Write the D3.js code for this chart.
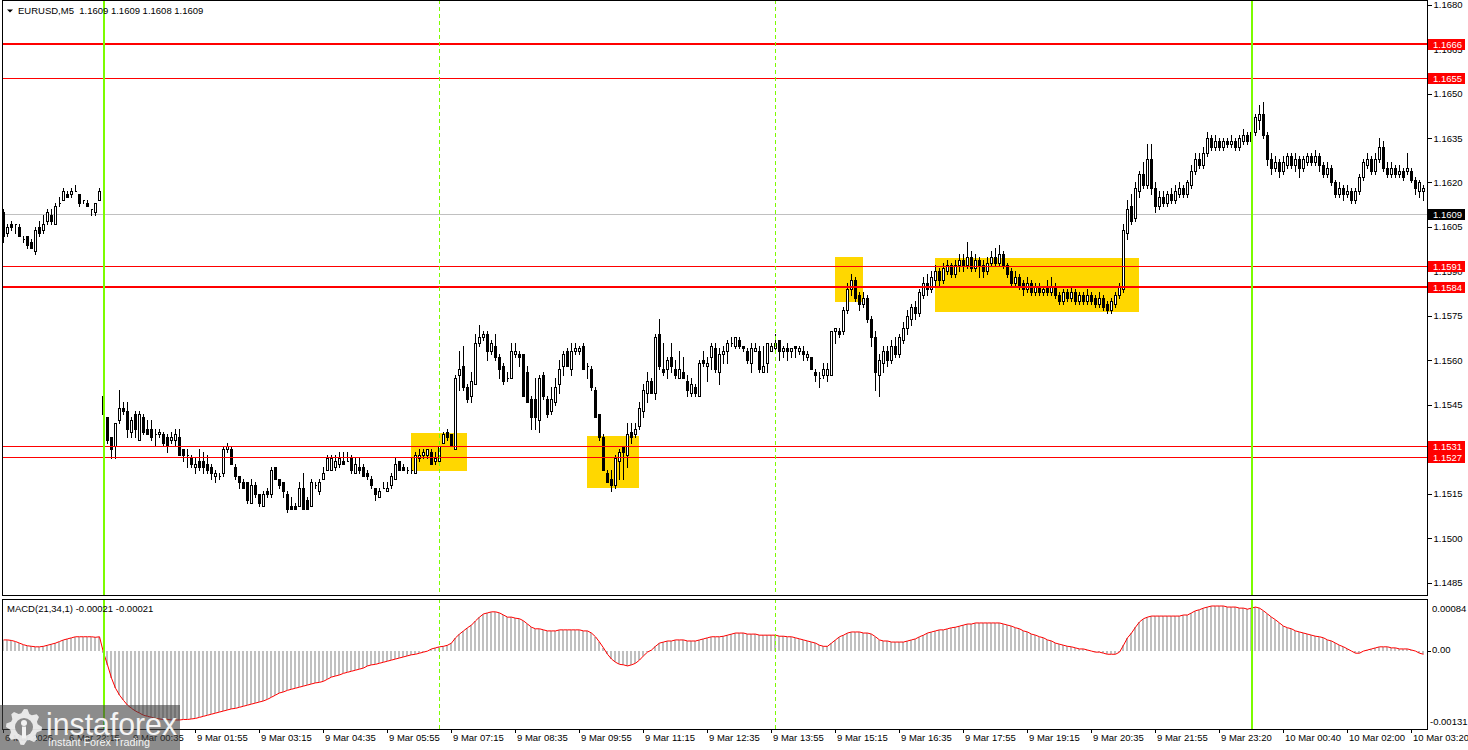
<!DOCTYPE html>
<html><head><meta charset="utf-8">
<script src="https://cdn.jsdelivr.net/npm/d3@7"></script>
<style>
html,body{margin:0;padding:0;background:#fff;overflow:hidden;}
svg{display:block;font-family:"Liberation Sans",Arial,sans-serif;}
</style></head><body>
<svg id="chart" width="1468" height="750"></svg>
<script>
// ---------------- DATA ----------------
const symbolTitle = "EURUSD,M5  1.1609 1.1609 1.1608 1.1609";
const macdTitle = "MACD(21,34,1) -0.00021 -0.00021";

// candles [open, high, low, close]
const candlesFri = [
[1.1610,1.1611,1.1600,1.1602],[1.1603,1.1606,1.1602,1.1605],[1.1606,1.1607,1.1604,1.1605],[1.1606,1.1606,1.1603,1.1606],
[1.1605,1.1606,1.1602,1.1602],[1.1601,1.1602,1.1600,1.1601],[1.1602,1.1602,1.1598,1.1599],[1.1600,1.1601,1.1598,1.1598],
[1.1597,1.1605,1.1596,1.1604],[1.1605,1.1607,1.1602,1.1603],[1.1604,1.1609,1.1603,1.1606],[1.1607,1.1611,1.1606,1.1610],
[1.1609,1.1611,1.1606,1.1607],[1.1606,1.1613,1.1606,1.1612],[1.1613,1.1615,1.1612,1.1613],[1.1614,1.1618,1.1614,1.1617],
[1.1616,1.1617,1.1615,1.1615],[1.1616,1.1618,1.1615,1.1617],[1.1617,1.1619,1.1617,1.1617],[1.1616,1.1616,1.1612,1.1613],
[1.1614,1.1614,1.1613,1.1614],[1.1613,1.1614,1.1612,1.1612],[1.1611,1.1611,1.1609,1.1611],[1.1610,1.1613,1.1609,1.1613],
[1.1614,1.1618,1.1614,1.1617]
];
const candlesMon1 = [
[1.1548,1.1551,1.1541,1.1542],[1.1541,1.1541,1.1532,1.1533],[1.1534,1.1534,1.1527,1.1530],[1.1531,1.1539,1.1527,1.1539],
[1.1540,1.1550,1.1539,1.1544],[1.1544,1.1546,1.1542,1.1543],[1.1543,1.1546,1.1534,1.1537],[1.1536,1.1541,1.1534,1.1540],
[1.1542,1.1543,1.1534,1.1537],[1.1533,1.1543,1.1533,1.1542],[1.1541,1.1542,1.1535,1.1536],[1.1537,1.1540,1.1535,1.1535],
[1.1537,1.1540,1.1533,1.1534],[1.1535,1.1537,1.1531,1.1535],[1.1535,1.1537,1.1534,1.1536],[1.1535,1.1536,1.1531,1.1532],
[1.1534,1.1535,1.1529,1.1531],[1.1533,1.1536,1.1532,1.1534],[1.1533,1.1537,1.1531,1.1535],[1.1534,1.1537,1.1528,1.1528],
[1.1530,1.1530,1.1526,1.1528],[1.1528,1.1530,1.1524,1.1528],[1.1527,1.1528,1.1524,1.1525],[1.1524,1.1527,1.1522,1.1525],
[1.1526,1.1530,1.1523,1.1524],[1.1526,1.1529,1.1522,1.1524],[1.1525,1.1528,1.1522,1.1523],[1.1524,1.1525,1.1520,1.1522],
[1.1521,1.1523,1.1519,1.1522],[1.1521,1.1522,1.1520,1.1521],[1.1522,1.1531,1.1521,1.1530],[1.1530,1.1532,1.1529,1.1531],
[1.1530,1.1531,1.1525,1.1525],[1.1524,1.1525,1.1520,1.1521],[1.1521,1.1521,1.1517,1.1519],[1.1519,1.1520,1.1517,1.1517],
[1.1519,1.1519,1.1512,1.1513],[1.1512,1.1520,1.1512,1.1518],[1.1518,1.1519,1.1514,1.1515],[1.1515,1.1515,1.1511,1.1512],
[1.1511,1.1516,1.1511,1.1515],[1.1516,1.1517,1.1514,1.1515],[1.1515,1.1524,1.1514,1.1523],[1.1524,1.1524,1.1520,1.1520],
[1.1520,1.1520,1.1517,1.1518],[1.1519,1.1519,1.1514,1.1516],[1.1515,1.1516,1.1509,1.1510],[1.1511,1.1514,1.1510,1.1510],
[1.1511,1.1512,1.1510,1.1510],[1.1511,1.1519,1.1511,1.1517],[1.1517,1.1522,1.1510,1.1510],[1.1513,1.1514,1.1510,1.1510],
[1.1511,1.1520,1.1511,1.1519],[1.1518,1.1519,1.1517,1.1518],[1.1516,1.1520,1.1515,1.1519],[1.1520,1.1524,1.1520,1.1522],
[1.1523,1.1528,1.1523,1.1527],[1.1523,1.1528,1.1523,1.1527],[1.1524,1.1528,1.1523,1.1526],[1.1525,1.1529,1.1524,1.1527],
[1.1526,1.1529,1.1525,1.1525],[1.1526,1.1529,1.1526,1.1526],[1.1527,1.1528,1.1522,1.1523],[1.1522,1.1527,1.1522,1.1525],
[1.1524,1.1527,1.1522,1.1523],[1.1524,1.1525,1.1521,1.1521],[1.1522,1.1523,1.1520,1.1521],[1.1520,1.1521,1.1517,1.1518],
[1.1517,1.1517,1.1513,1.1515],[1.1514,1.1517,1.1514,1.1516],[1.1517,1.1519,1.1517,1.1517],[1.1516,1.1519,1.1516,1.1517],
[1.1518,1.1522,1.1517,1.1521],[1.1520,1.1527,1.1520,1.1525],[1.1526,1.1526,1.1523,1.1523],[1.1524,1.1525,1.1523,1.1523],
[1.1523,1.1524,1.1522,1.1523],[1.1523,1.1527,1.1522,1.1523],[1.1522,1.1529,1.1522,1.1528],[1.1527,1.1530,1.1526,1.1528],
[1.1528,1.1530,1.1527,1.1529],[1.1528,1.1530,1.1527,1.1530],[1.1529,1.1530,1.1525,1.1525],[1.1526,1.1529,1.1525,1.1527],
[1.1526,1.1531,1.1525,1.1531],[1.1532,1.1536,1.1532,1.1535],[1.1536,1.1537,1.1533,1.1534],[1.1535,1.1535,1.1531,1.1531]
];
const candlesMon2 = [
[1.1530,1.1555,1.1530,1.1554],[1.1555,1.1563,1.1550,1.1557],[1.1558,1.1565,1.1550,1.1551],[1.1551,1.1552,1.1546,1.1547],
[1.1548,1.1556,1.1546,1.1553],[1.1552,1.1569,1.1552,1.1566],[1.1566,1.1572,1.1565,1.1568],[1.1568,1.1570,1.1567,1.1569],
[1.1569,1.1570,1.1560,1.1563],[1.1563,1.1567,1.1562,1.1566],[1.1565,1.1569,1.1560,1.1561],[1.1561,1.1562,1.1554,1.1557],
[1.1558,1.1559,1.1552,1.1553],[1.1554,1.1556,1.1553,1.1554],[1.1554,1.1566,1.1554,1.1563],[1.1562,1.1566,1.1561,1.1563],
[1.1562,1.1563,1.1558,1.1561],[1.1562,1.1562,1.1548,1.1548],[1.1556,1.1558,1.1546,1.1546],[1.1547,1.1548,1.1537,1.1541],
[1.1547,1.1554,1.1537,1.1541],[1.1540,1.1555,1.1536,1.1554],[1.1555,1.1556,1.1547,1.1548],[1.1547,1.1548,1.1541,1.1542],
[1.1543,1.1551,1.1542,1.1547],[1.1546,1.1554,1.1545,1.1551],[1.1552,1.1560,1.1549,1.1557],[1.1558,1.1563,1.1555,1.1562],
[1.1563,1.1564,1.1558,1.1558],[1.1557,1.1566,1.1555,1.1563],[1.1563,1.1566,1.1562,1.1564],[1.1563,1.1565,1.1562,1.1564],
[1.1565,1.1566,1.1557,1.1557],[1.1558,1.1559,1.1554,1.1558],[1.1557,1.1558,1.1550,1.1551],[1.1550,1.1551,1.1541,1.1541],
[1.1542,1.1542,1.1533,1.1534],[1.1534,1.1535,1.1523,1.1523],[1.1522,1.1523,1.1519,1.1519],[1.1520,1.1523,1.1516,1.1518],
[1.1518,1.1528,1.1517,1.1527],[1.1526,1.1530,1.1520,1.1529],[1.1531,1.1531,1.1520,1.1529],[1.1528,1.1539,1.1524,1.1535],
[1.1536,1.1539,1.1532,1.1534],[1.1535,1.1539,1.1534,1.1537],[1.1538,1.1546,1.1537,1.1544],[1.1543,1.1552,1.1541,1.1550],
[1.1549,1.1556,1.1546,1.1553],[1.1553,1.1554,1.1549,1.1549],[1.1549,1.1569,1.1547,1.1568],[1.1569,1.1574,1.1557,1.1558],
[1.1557,1.1566,1.1555,1.1556],[1.1557,1.1561,1.1554,1.1560],[1.1561,1.1566,1.1556,1.1558],[1.1557,1.1560,1.1554,1.1555],
[1.1554,1.1563,1.1554,1.1557],[1.1556,1.1561,1.1554,1.1554],[1.1553,1.1555,1.1548,1.1550],[1.1549,1.1554,1.1548,1.1552],
[1.1551,1.1552,1.1548,1.1549],[1.1548,1.1560,1.1548,1.1559],[1.1560,1.1563,1.1558,1.1559],[1.1558,1.1561,1.1553,1.1559],
[1.1561,1.1566,1.1557,1.1565],[1.1564,1.1566,1.1556,1.1557],[1.1556,1.1564,1.1552,1.1562],[1.1562,1.1565,1.1559,1.1563],
[1.1563,1.1567,1.1559,1.1566],[1.1566,1.1568,1.1565,1.1566],[1.1565,1.1568,1.1564,1.1568],[1.1567,1.1568,1.1564,1.1565],
[1.1565,1.1565,1.1563,1.1564],[1.1563,1.1564,1.1559,1.1560],[1.1559,1.1566,1.1556,1.1564],[1.1563,1.1566,1.1563,1.1564],
[1.1563,1.1565,1.1556,1.1557],[1.1556,1.1565,1.1556,1.1558],[1.1559,1.1566,1.1556,1.1566],[1.1563,1.1566,1.1563,1.1565],
[1.1564,1.1569,1.1563,1.1566],[1.1567,1.1567,1.1560,1.1563],[1.1563,1.1565,1.1561,1.1564],[1.1564,1.1566,1.1560,1.1563],
[1.1563,1.1564,1.1561,1.1564],[1.1565,1.1565,1.1561,1.1564],[1.1563,1.1565,1.1562,1.1564],[1.1563,1.1565,1.1560,1.1562],
[1.1561,1.1563,1.1560,1.1562],[1.1561,1.1561,1.1557,1.1557],[1.1556,1.1557,1.1553,1.1555],[1.1554,1.1556,1.1551,1.1554],
[1.1555,1.1559,1.1554,1.1557],[1.1555,1.1559,1.1553,1.1557],[1.1555,1.1570,1.1555,1.1570],[1.1570,1.1571,1.1566,1.1571],
[1.1570,1.1571,1.1568,1.1569]
];
const candlesMon3 = [
[1.1570,1.1578,1.1569,1.1577],[1.1577,1.1586,1.1576,1.1584],[1.1584,1.1589,1.1582,1.1587],[1.1587,1.1588,1.1580,1.1581],
[1.1582,1.1583,1.1577,1.1579],[1.1579,1.1583,1.1578,1.1581],[1.1581,1.1582,1.1573,1.1574],[1.1574,1.1575,1.1565,1.1568],
[1.1568,1.1570,1.1550,1.1556],[1.1555,1.1562,1.1548,1.1560],[1.1559,1.1565,1.1556,1.1563],[1.1563,1.1565,1.1558,1.1560],
[1.1560,1.1567,1.1559,1.1565],[1.1565,1.1568,1.1561,1.1562],[1.1562,1.1569,1.1561,1.1568],[1.1567,1.1573,1.1566,1.1571],
[1.1571,1.1577,1.1569,1.1575],[1.1574,1.1579,1.1572,1.1578],[1.1578,1.1580,1.1574,1.1576],[1.1576,1.1584,1.1575,1.1583],
[1.1582,1.1588,1.1581,1.1586],[1.1586,1.1589,1.1582,1.1584],[1.1584,1.1590,1.1583,1.1588],[1.1587,1.1592,1.1585,1.1590],
[1.1590,1.1591,1.1585,1.1587],[1.1587,1.1593,1.1586,1.1591],[1.1590,1.1594,1.1589,1.1592],[1.1592,1.1593,1.1588,1.1589],
[1.1589,1.1594,1.1588,1.1592],[1.1592,1.1596,1.1590,1.1594],[1.1594,1.1596,1.1590,1.1592],[1.1592,1.1600,1.1591,1.1595],
[1.1595,1.1597,1.1590,1.1591],[1.1591,1.1596,1.1590,1.1594],[1.1594,1.1595,1.1588,1.1592],[1.1592,1.1594,1.1588,1.1590],
[1.1590,1.1595,1.1589,1.1593],[1.1593,1.1597,1.1592,1.1595],[1.1595,1.1598,1.1592,1.1593],[1.1593,1.1599,1.1592,1.1596],
[1.1596,1.1597,1.1591,1.1592],[1.1592,1.1593,1.1588,1.1589],[1.1590,1.1591,1.1585,1.1586],[1.1586,1.1590,1.1585,1.1588],
[1.1588,1.1589,1.1584,1.1585],[1.1586,1.1587,1.1582,1.1584],[1.1584,1.1588,1.1583,1.1586],[1.1586,1.1587,1.1582,1.1583],
[1.1583,1.1586,1.1582,1.1585],[1.1585,1.1586,1.1582,1.1583],[1.1583,1.1585,1.1582,1.1584],[1.1585,1.1587,1.1582,1.1583],
[1.1583,1.1588,1.1582,1.1585],[1.1585,1.1586,1.1581,1.1582],[1.1582,1.1583,1.1579,1.1580],[1.1580,1.1584,1.1579,1.1583],
[1.1583,1.1584,1.1580,1.1581],[1.1581,1.1585,1.1580,1.1583],[1.1583,1.1584,1.1579,1.1580],[1.1580,1.1583,1.1579,1.1582],
[1.1582,1.1583,1.1579,1.1580],[1.1580,1.1584,1.1579,1.1582],[1.1582,1.1583,1.1579,1.1580],[1.1581,1.1582,1.1578,1.1579],
[1.1579,1.1583,1.1578,1.1581],[1.1581,1.1582,1.1577,1.1578],[1.1579,1.1580,1.1576,1.1577],[1.1577,1.1581,1.1576,1.1580],
[1.1579,1.1583,1.1578,1.1582],[1.1582,1.1586,1.1581,1.1585],[1.1584,1.1606,1.1583,1.1604],[1.1603,1.1614,1.1601,1.1611],
[1.1612,1.1616,1.1606,1.1607],[1.1608,1.1620,1.1607,1.1618],[1.1617,1.1624,1.1615,1.1623],[1.1623,1.1627,1.1618,1.1619],
[1.1619,1.1633,1.1618,1.1628],[1.1628,1.1633,1.1616,1.1618],[1.1618,1.1620,1.1610,1.1612],[1.1612,1.1617,1.1611,1.1615],
[1.1615,1.1617,1.1612,1.1613],[1.1613,1.1617,1.1612,1.1616],[1.1616,1.1618,1.1613,1.1614],[1.1614,1.1619,1.1613,1.1617],
[1.1616,1.1620,1.1615,1.1618],[1.1618,1.1619,1.1615,1.1616],[1.1616,1.1621,1.1615,1.1620],[1.1619,1.1626,1.1618,1.1624],
[1.1624,1.1630,1.1623,1.1628],[1.1628,1.1630,1.1625,1.1626],[1.1626,1.1632,1.1625,1.1630],[1.1630,1.1637,1.1629,1.1635],
[1.1635,1.1636,1.1631,1.1632],[1.1632,1.1636,1.1631,1.1634],[1.1634,1.1635,1.1631,1.1632],[1.1632,1.1635,1.1631,1.1634],
[1.1634,1.1635,1.1632,1.1633],[1.1633,1.1636,1.1632,1.1634],[1.1634,1.1635,1.1631,1.1632],[1.1632,1.1636,1.1631,1.1635],
[1.1634,1.1638,1.1633,1.1636],[1.1636,1.1637,1.1633,1.1634],[1.1634,1.1640,1.1633,1.1637],[1.1637,1.1643,1.1636,1.1642],
[1.1641,1.1646,1.1638,1.1643],[1.1643,1.1647,1.1635,1.1636],[1.1636,1.1637,1.1626,1.1628],[1.1628,1.1630,1.1623,1.1625],
[1.1625,1.1629,1.1624,1.1627],[1.1627,1.1628,1.1622,1.1624],[1.1624,1.1629,1.1623,1.1627],[1.1626,1.1630,1.1625,1.1629],
[1.1629,1.1630,1.1625,1.1626],[1.1626,1.1630,1.1624,1.1628],[1.1628,1.1629,1.1622,1.1625],[1.1625,1.1629,1.1624,1.1628],
[1.1627,1.1630,1.1626,1.1629],[1.1629,1.1630,1.1626,1.1627],[1.1627,1.1631,1.1626,1.1629],[1.1629,1.1630,1.1624,1.1626],
[1.1626,1.1627,1.1622,1.1623],[1.1623,1.1627,1.1622,1.1625],[1.1625,1.1626,1.1619,1.1620],[1.1620,1.1621,1.1615,1.1616],
[1.1616,1.1620,1.1615,1.1618],[1.1618,1.1619,1.1614,1.1616],[1.1616,1.1619,1.1615,1.1617],[1.1617,1.1618,1.1613,1.1614],
[1.1614,1.1618,1.1613,1.1617],[1.1617,1.1623,1.1616,1.1622],[1.1622,1.1628,1.1621,1.1627],[1.1626,1.1630,1.1625,1.1628],
[1.1628,1.1629,1.1623,1.1624],[1.1624,1.1630,1.1623,1.1628],[1.1628,1.1635,1.1627,1.1632],[1.1632,1.1634,1.1624,1.1625],
[1.1625,1.1627,1.1622,1.1623],[1.1623,1.1627,1.1622,1.1625],[1.1625,1.1626,1.1622,1.1623],[1.1623,1.1626,1.1622,1.1624],
[1.1624,1.1625,1.1621,1.1622],[1.1624,1.1630,1.1623,1.1625],[1.1624,1.1625,1.1620,1.1621],[1.1621,1.1622,1.1616,1.1618],
[1.1617,1.1621,1.1615,1.1620],[1.1617,1.1619,1.1614,1.1618]
];

// MACD(21,34,1) main values (signal = same, period 1)
const macdFri = [0.00020,0.00020,0.00019,0.00017,0.00014,0.00011,0.00009,0.00008,0.00007,0.00007,
0.00008,0.00010,0.00012,0.00014,0.00017,0.00020,0.00022,0.00024,0.00026,0.00026,
0.00026,0.00026,0.00026,0.00025,0.00026];
const macdMon1 = [-0.00004,-0.00027,-0.00052,-0.00071,-0.00084,
-0.00094,-0.00103,-0.00109,-0.00114,-0.00118,-0.00122,-0.00124,-0.00126,-0.00128,-0.00129,
-0.00130,-0.00130,-0.00131,-0.00131,-0.00131,-0.00130,-0.00130,-0.00129,-0.00128,-0.00126,
-0.00124,-0.00122,-0.00120,-0.00118,-0.00116,-0.00114,-0.00112,-0.00110,-0.00109,-0.00107,
-0.00105,-0.00103,-0.00101,-0.00099,-0.00097,-0.00095,-0.00092,-0.00088,-0.00084,-0.00080,
-0.00078,-0.00075,-0.00073,-0.00071,-0.00069,-0.00067,-0.00065,-0.00063,-0.00061,-0.00060,
-0.00058,-0.00054,-0.00050,-0.00048,-0.00046,-0.00043,-0.00041,-0.00039,-0.00037,-0.00035,
-0.00033,-0.00029,-0.00027,-0.00026,-0.00024,-0.00022,-0.00020,-0.00018,-0.00016,-0.00014,
-0.00012,-0.00010,-0.00008,-0.00007,-0.00005,-0.00003,-0.00001,0.00003,0.00005,0.00007,
0.00008,0.00010,0.00014];
const macdMon2 = [0.00024,0.00031,0.00037,0.00043,0.00048,0.00056,0.00063,
0.00069,0.00071,0.00073,0.00073,0.00071,0.00067,0.00063,0.00063,0.00061,0.00060,
0.00056,0.00050,0.00044,0.00041,0.00041,0.00039,0.00037,0.00037,0.00037,0.00039,
0.00039,0.00039,0.00039,0.00039,0.00039,0.00037,0.00037,0.00033,0.00026,0.00016,
0.00005,-0.00007,-0.00016,-0.00022,-0.00026,-0.00027,-0.00029,-0.00027,-0.00024,-0.00018,
-0.00010,-0.00003,0.00001,0.00008,0.00014,0.00016,0.00018,0.00018,0.00020,0.00020,
0.00020,0.00018,0.00018,0.00018,0.00020,0.00022,0.00024,0.00026,0.00026,0.00026,
0.00027,0.00029,0.00031,0.00033,0.00033,0.00033,0.00031,0.00031,0.00031,0.00029,
0.00029,0.00029,0.00029,0.00029,0.00027,0.00027,0.00026,0.00026,0.00024,0.00022,
0.00020,0.00018,0.00016,0.00014,0.00010,0.00008,0.00008,0.00014,0.00020,0.00026];
const macdMon3 = [0.00029,0.00033,0.00035,0.00035,0.00035,0.00033,0.00033,0.00031,0.00026,0.00020,
0.00018,0.00018,0.00016,0.00016,0.00016,0.00016,0.00018,0.00020,0.00022,0.00026,
0.00029,0.00033,0.00035,0.00037,0.00039,0.00039,0.00041,0.00043,0.00044,0.00046,
0.00048,0.00050,0.00050,0.00052,0.00052,0.00052,0.00052,0.00052,0.00052,0.00052,
0.00050,0.00048,0.00046,0.00043,0.00041,0.00037,0.00035,0.00031,0.00029,0.00026,
0.00024,0.00020,0.00018,0.00014,0.00012,0.00010,0.00008,0.00007,0.00005,0.00003,
0.00003,0.00001,-0.00001,-0.00003,-0.00003,-0.00005,-0.00007,-0.00007,-0.00007,-0.00003,
0.00010,0.00024,0.00033,0.00044,0.00054,0.00060,0.00063,0.00065,0.00065,0.00065,
0.00065,0.00065,0.00065,0.00065,0.00065,0.00067,0.00067,0.00071,0.00075,0.00077,
0.00080,0.00082,0.00084,0.00084,0.00084,0.00084,0.00082,0.00082,0.00082,0.00080,
0.00080,0.00078,0.00080,0.00082,0.00080,0.00075,0.00069,0.00063,0.00058,0.00052,
0.00046,0.00043,0.00041,0.00037,0.00035,0.00033,0.00031,0.00029,0.00027,0.00026,
0.00024,0.00020,0.00018,0.00014,0.00010,0.00007,0.00003,-0.00001,-0.00005,-0.00005,
-0.00001,0.00001,0.00003,0.00005,0.00007,0.00007,0.00007,0.00005,0.00005,0.00003,
0.00003,0.00003,0.00001,-0.00001,-0.00005,-0.00007];

const priceTicks = [1.1680,1.1665,1.1650,1.1635,1.1620,1.1605,1.1590,1.1575,1.1560,1.1545,1.1530,1.1515,1.1500,1.1485];
const macdTickValues = [0.00084, 0, -0.00131];
const macdTickLabels = ["0.00084", "0.00", "-0.00131"];
const timeLabelBars = [0,16,32,48,64,80,96,112,128,144,160,176,192,208,224,240,256,272,288,304,320,336,352];
const timeLabels = ["6 Mar 2026","6 Mar 22:15","9 Mar 00:35","9 Mar 01:55","9 Mar 03:15","9 Mar 04:35","9 Mar 05:55",
 "9 Mar 07:15","9 Mar 08:35","9 Mar 09:55","9 Mar 11:15","9 Mar 12:35","9 Mar 13:55","9 Mar 15:15","9 Mar 16:35",
 "9 Mar 17:55","9 Mar 19:15","9 Mar 20:35","9 Mar 21:55","9 Mar 23:20","10 Mar 00:40","10 Mar 02:00","10 Mar 03:20"];

const levelPrices = [1.16667, 1.16554, 1.15917, 1.15846, 1.15311, 1.15274];
const levelLabels = ["1.1666","1.1655","1.1591","1.1584","1.1531","1.1527"];
const bidPrice = 1.16094;
const bidLabel = "1.1609";

const zoneStartBar = [102, 146, 208, 233];
const zoneEndBar   = [116, 159, 215, 284];
const zoneHigh = [1.15356, 1.15346, 1.15949, 1.15945];
const zoneLow  = [1.15228, 1.15170, 1.15797, 1.15763];

const solidVLineBars = [25, 312];
const dashedVLineBars = [109, 193];

// ---------------- STYLE / LAYOUT ----------------
const levelStrokeWidths = [2,1,1,2,1,1];
const PL = 2, PR = 1427, MAIN_T = 0, MAIN_B = 595, MACD_T = 599, MACD_B = 729;
const FONT = 9.5;

const candles = [...candlesFri, ...candlesMon1, ...candlesMon2, ...candlesMon3]
  .map(([o,h,l,c], i) => ({i, o, h, l, c}));
const macd = [...macdFri, ...macdMon1, ...macdMon2, ...macdMon3];

const x = d3.scaleLinear().domain([0, 355]).range([3, 1423]);
const y = d3.scaleLinear().domain([1.1485, 1.1680]).range([582.7, 4.6]);
const ym = d3.scaleLinear().domain([-0.00131, 0.00084]).range([720, 606]);

const svg = d3.select('#chart');
svg.append('rect').attr('width',1468).attr('height',750).attr('fill','#fff');

const defs = svg.append('defs');
defs.append('clipPath').attr('id','clipMain').append('rect')
  .attr('x',PL).attr('y',MAIN_T).attr('width',PR-PL).attr('height',MAIN_B-MAIN_T);
defs.append('clipPath').attr('id','clipMacd').append('rect')
  .attr('x',PL).attr('y',MACD_T).attr('width',PR-PL).attr('height',MACD_B-MACD_T);

const gMain = svg.append('g').attr('clip-path','url(#clipMain)').attr('shape-rendering','crispEdges');
const gMacd = svg.append('g').attr('clip-path','url(#clipMacd)').attr('shape-rendering','crispEdges');

// zones (background)
gMain.selectAll('rect.zone').data(zoneStartBar.map((s,k)=>({s, e:zoneEndBar[k], hi:zoneHigh[k], lo:zoneLow[k]})))
  .enter().append('rect').attr('class','zone')
  .attr('x', d => x(d.s)).attr('width', d => x(d.e) - x(d.s))
  .attr('y', d => Math.round(y(d.hi))).attr('height', d => Math.round(y(d.lo)) - Math.round(y(d.hi)))
  .attr('fill', '#FFD700');

// bid line
gMain.append('line').attr('x1',PL).attr('x2',PR)
  .attr('y1', Math.round(y(bidPrice))+0.5).attr('y2', Math.round(y(bidPrice))+0.5)
  .attr('stroke','#C0C0C0').attr('stroke-width',1);

// candles
const cg = gMain.append('g');
candles.forEach(d => {
  const cx = Math.round(x(d.i));
  const yh = Math.round(y(d.h)), yl = Math.round(y(d.l));
  cg.append('line').attr('x1',cx+0.5).attr('x2',cx+0.5).attr('y1',yh).attr('y2',yl+1)
    .attr('stroke','#000').attr('stroke-width',1);
  const top = Math.round(y(Math.max(d.o,d.c))) + 0.5;
  const bot = Math.round(y(Math.min(d.o,d.c))) + 0.5;
  cg.append('path')
    .attr('d', `M${cx-0.5},${top}H${cx+1.5}V${bot}H${cx-0.5}Z`)
    .attr('fill', d.c >= d.o ? '#fff' : '#000')
    .attr('stroke','#000').attr('stroke-width',1);
});

// horizontal levels
levelPrices.forEach((p,k) => {
  const w = levelStrokeWidths[k];
  const yy = w === 1 ? Math.round(y(p)) + 0.5 : Math.round(y(p));
  gMain.append('line').attr('x1',PL).attr('x2',PR).attr('y1',yy).attr('y2',yy)
    .attr('stroke','#FF0000').attr('stroke-width',w);
});

// MACD histogram
gMacd.selectAll('rect.hist').data(macd).enter().append('rect').attr('class','hist')
  .attr('x', (v,i) => Math.round(x(i)) - 1).attr('width', 2)
  .attr('y', v => Math.min(ym(v), ym(0))).attr('height', v => Math.abs(ym(v) - ym(0)))
  .attr('fill', '#C0C0C0');
// signal line (period 1 -> equals MACD)
gMacd.append('path').datum(macd)
  .attr('d', d3.line().x((v,i)=>Math.round(x(i))+0.5).y(v=>ym(v)))
  .attr('fill','none').attr('stroke','#FF0000').attr('stroke-width',1)
  .attr('shape-rendering','auto');

// vertical lines (both panels)
const vg = svg.append('g').attr('shape-rendering','crispEdges');
dashedVLineBars.forEach(b => {
  const xx = Math.round(x(b)) + 0.5;
  [[MAIN_T, MAIN_B],[MACD_T, MACD_B]].forEach(([a,bb]) => {
    vg.append('line').attr('x1',xx).attr('x2',xx).attr('y1',a).attr('y2',bb)
      .attr('stroke','#7CFC00').attr('stroke-width',1).attr('stroke-dasharray','4,3');
  });
});
solidVLineBars.forEach(b => {
  const xx = Math.round(x(b)) + 0.5;
  [[MAIN_T, MAIN_B],[MACD_T, MACD_B]].forEach(([a,bb]) => {
    vg.append('line').attr('x1',xx).attr('x2',xx).attr('y1',a).attr('y2',bb)
      .attr('stroke','#7CFC00').attr('stroke-width',2);
  });
});

// frames
const fg = svg.append('g').attr('shape-rendering','crispEdges').attr('fill','none').attr('stroke','#000');
fg.append('rect').attr('x',PL+0.5).attr('y',MAIN_T+0.5).attr('width',PR-PL).attr('height',MAIN_B-MAIN_T);
fg.append('rect').attr('x',PL+0.5).attr('y',MACD_T+0.5).attr('width',PR-PL).attr('height',MACD_B-MACD_T);

// price axis
const pa = svg.append('g').attr('transform',`translate(${PR+0.5},0)`)
  .call(d3.axisRight(y).tickValues(priceTicks).tickSize(4).tickPadding(2).tickFormat(d3.format('.4f')));
pa.select('.domain').remove();
pa.selectAll('line').attr('stroke','#000').attr('shape-rendering','crispEdges');
pa.selectAll('text').attr('font-size',FONT).attr('font-family','"Liberation Sans",Arial,sans-serif').attr('fill','#000');

// level labels
const lg = svg.append('g');
levelPrices.forEach((p,k) => {
  const yy = Math.round(y(p));
  lg.append('rect').attr('x',PR+1).attr('y',yy-5).attr('width',37).attr('height',11).attr('fill','#FF0000');
  lg.append('text').attr('x',PR+6).attr('y',yy+4).text(levelLabels[k])
    .attr('font-size',FONT).attr('fill','#fff');
});
{
  const yy = Math.round(y(bidPrice));
  lg.append('rect').attr('x',PR+1).attr('y',yy-5).attr('width',37).attr('height',11).attr('fill','#000');
  lg.append('text').attr('x',PR+6).attr('y',yy+4).text(bidLabel).attr('font-size',FONT).attr('fill','#fff');
}

// MACD axis
const macdLabelY = [609, 650, 722];
macdTickValues.forEach((v,k) => {
  if (v === 0) svg.append('line').attr('x1',PR).attr('x2',PR+4).attr('y1',Math.round(ym(v))+0.5).attr('y2',Math.round(ym(v))+0.5)
    .attr('stroke','#000').attr('shape-rendering','crispEdges');
  svg.append('text').attr('x', v < 0 ? PR+3 : PR+5).attr('y', macdLabelY[k]).attr('dy','0.32em')
    .text(macdTickLabels[k]).attr('font-size',FONT).attr('fill','#000');
});

// time axis
const ta = svg.append('g').attr('transform',`translate(-0.5,${MACD_B})`)
  .call(d3.axisBottom(x).tickValues(timeLabelBars).tickSize(4).tickFormat((d,k)=>timeLabels[k]));
ta.select('.domain').remove();
ta.selectAll('line').attr('stroke','#000').attr('shape-rendering','crispEdges');
ta.selectAll('text').attr('text-anchor','start').attr('x',2).attr('y',5).attr('dy','0.71em')
  .attr('font-size',FONT).attr('font-family','"Liberation Sans",Arial,sans-serif').attr('fill','#000');

// header
svg.append('path').attr('d','M7,9.5H13L10,12.5Z').attr('fill','#000');
svg.append('text').attr('x',18).attr('y',14).attr('font-size',FONT).attr('fill','#000')
  .style('white-space','pre').text(symbolTitle);
svg.append('text').attr('x',7).attr('y',612).attr('font-size',FONT).attr('fill','#000').text(macdTitle);

// watermark logo
const logo = svg.append('g');
logo.append('rect').attr('x',0).attr('y',705).attr('width',180).attr('height',45).attr('fill','#404040').attr('opacity',0.6);
const gcx = 24, gcy = 727, teeth = 8;
const gearPts = [];
for (let k = 0; k < teeth*4; k++) {
  const a = (k / (teeth*4)) * Math.PI * 2 - Math.PI/2;
  const r = (k % 4 === 0 || k % 4 === 1) ? 18 : 14;
  gearPts.push([gcx + r*Math.cos(a), gcy + r*Math.sin(a)]);
}
logo.append('path').attr('d', d3.line()(gearPts) + 'Z').attr('fill','#f2f2f2').attr('opacity',0.9);
logo.append('circle').attr('cx',gcx).attr('cy',gcy).attr('r',9).attr('fill','#8a8a8a');
logo.append('circle').attr('cx',gcx).attr('cy',gcy-4).attr('r',3).attr('fill','#f2f2f2');
logo.append('rect').attr('x',gcx-2).attr('y',gcy-0.5).attr('width',4).attr('height',12).attr('fill','#f2f2f2');
logo.append('text').attr('x',46).attr('y',735).attr('font-size',32).attr('fill','#f4f4f4')
  .attr('textLength',131).attr('lengthAdjust','spacingAndGlyphs').text('instaforex');
logo.append('text').attr('x',48).attr('y',746).attr('font-size',10.5).attr('fill','#f4f4f4')
  .attr('textLength',102).attr('lengthAdjust','spacingAndGlyphs').text('Instant Forex Trading');
</script>
</body></html>
